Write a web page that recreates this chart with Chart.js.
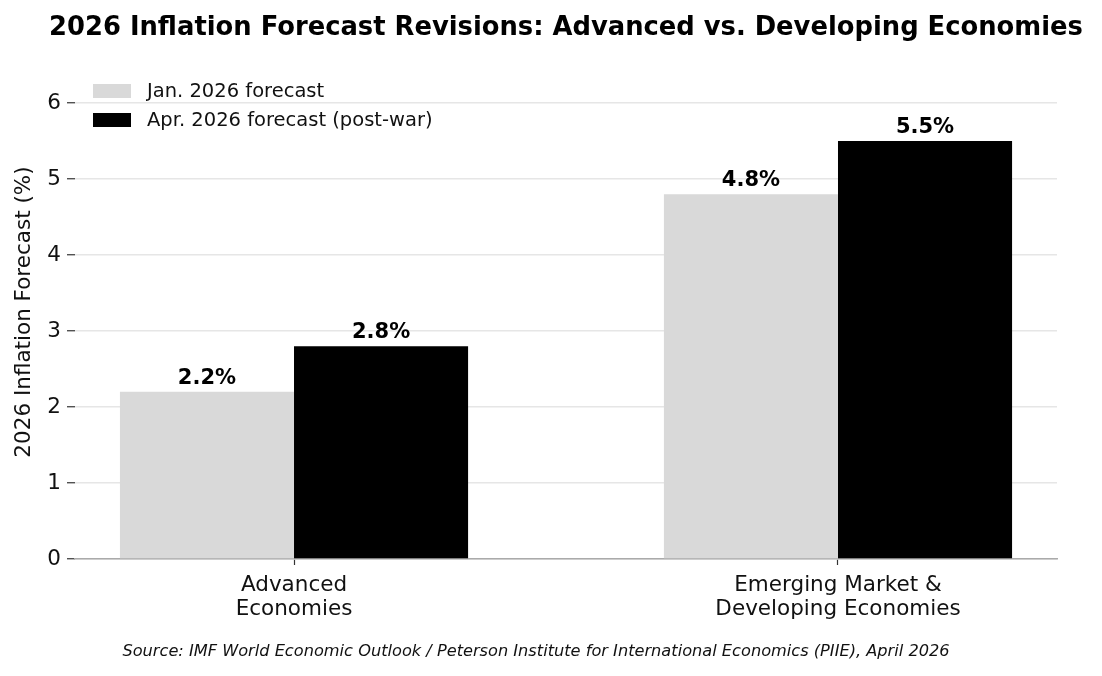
<!DOCTYPE html>
<html>
<head>
<meta charset="utf-8">
<script src="https://cdn.jsdelivr.net/npm/chart.js@4.4.1/dist/chart.umd.min.js"></script>
<style>
  html, body { margin: 0; padding: 0; background: #fff; }
  #wrap { width: 1102px; height: 676px; }
</style>
</head>
<body>
<div id="wrap"><canvas id="chart" width="1102" height="676"></canvas></div>
<script>
// Chart data
const categories = [["Advanced", "Economies"], ["Emerging Market &", "Developing Economies"]];
const seriesNames = ["Jan. 2026 forecast", "Apr. 2026 forecast (post-war)"];
const janForecast = [2.2, 4.8];
const aprForecast = [2.8, 5.5];
const yTicks = [0, 1, 2, 3, 4, 5, 6];

const titleText = "2026 Inflation Forecast Revisions: Advanced vs. Developing Economies";
const sourceText = "Source: IMF World Economic Outlook / Peterson Institute for International Economics (PIIE), April 2026";
const barColors = ["#d9d9d9", "#000000"];
const FONT = "'DejaVu Sans', sans-serif";

const toPoints = vals => vals.map((v, i) => ({ x: i, y: v }));

// Title, source line, legend and value labels
const annotations = {
    id: "annotations",
    afterDatasetsDraw(chart) {
        const ctx = chart.ctx;
        ctx.save();
        ctx.fillStyle = "#000";
        ctx.textBaseline = "alphabetic";

        // Value labels above bars
        ctx.font = "bold 21px " + FONT;
        ctx.textAlign = "center";
        chart.data.datasets.forEach((ds, di) => {
            chart.getDatasetMeta(di).data.forEach((bar, i) => {
                ctx.fillText(ds.data[i].y.toFixed(1) + "%", bar.x, bar.y - 8);
            });
        });

        // Legend in the upper left
        ctx.font = "19.5px " + FONT;
        ctx.textAlign = "left";
        ctx.textBaseline = "middle";
        seriesNames.forEach((name, i) => {
            const y = 91 + i * 29;
            ctx.fillStyle = barColors[i];
            ctx.fillRect(93, y - 7, 38, 14);
            ctx.fillStyle = "#111";
            ctx.fillText(name, 147, y + 1);
        });

        // Title
        ctx.fillStyle = "#000";
        ctx.textAlign = "center";
        ctx.font = "bold 25.8px " + FONT;
        ctx.fillText(titleText, 566, 28);

        // Source
        ctx.font = "italic 16.2px " + FONT;
        ctx.fillStyle = "#111";
        ctx.fillText(sourceText, 536, 652);
        ctx.restore();
    }
};

new Chart(document.getElementById("chart"), {
    type: "bar",
    data: {
        datasets: [
            { label: seriesNames[0], data: toPoints(janForecast), backgroundColor: barColors[0] },
            { label: seriesNames[1], data: toPoints(aprForecast), backgroundColor: barColors[1] }
        ]
    },
    options: {
        responsive: false,
        animation: false,
        devicePixelRatio: 1,
        categoryPercentage: 0.64,
        barPercentage: 1.0,
        layout: { padding: { top: 65, right: 45, bottom: 47, left: 0 } },
        plugins: {
            legend: { display: false },
            title: { display: false },
            tooltip: { enabled: false }
        },
        scales: {
            x: {
                type: "linear",
                offset: false,
                min: -0.4026,
                max: 1.4026,
                afterBuildTicks: scale => { scale.ticks = categories.map((c, i) => ({ value: i })); },
                afterFit: scale => { scale.height = 70; },
                ticks: {
                    callback: value => categories[value],
                    font: { family: FONT, size: 21.5, lineHeight: 1.12 },
                    color: "#111",
                    padding: 8,
                    maxRotation: 0,
                    autoSkip: false
                },
                grid: {
                    display: true,
                    offset: false,
                    drawOnChartArea: false,
                    tickLength: 6,
                    tickColor: "#333",
                    tickWidth: 1.2
                },
                border: { display: true, color: "#aaaaaa", width: 1.5 }
            },
            y: {
                min: 0,
                max: 6.5,
                afterBuildTicks: scale => { scale.ticks = yTicks.map(v => ({ value: v })); },
                afterFit: scale => { scale.width = 75; },
                ticks: {
                    font: { family: FONT, size: 21.5 },
                    color: "#111",
                    padding: 6
                },
                grid: {
                    color: "#e6e6e6",
                    lineWidth: 1.5,
                    tickLength: 8,
                    tickColor: "#333",
                    tickWidth: 1.2
                },
                border: { display: false },
                title: {
                    display: true,
                    text: "2026 Inflation Forecast (%)",
                    font: { family: FONT, size: 21.5 },
                    color: "#111",
                    padding: { top: 12, bottom: 0 }
                }
            }
        }
    },
    plugins: [annotations]
});
</script>
</body>
</html>
